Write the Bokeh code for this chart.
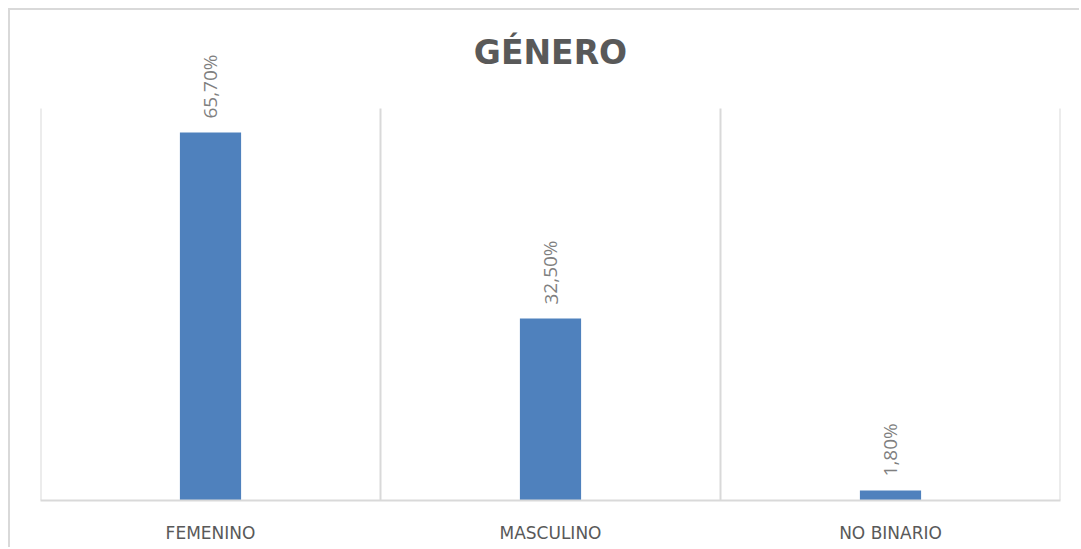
from bokeh.plotting import figure
from bokeh.models import FixedTicker, ColumnDataSource, Title, LabelSet
from bokeh.embed import file_html
from bokeh.resources import INLINE
from bokeh.core.properties import value

categories = ["FEMENINO", "MASCULINO", "NO BINARIO"]
percentages = [65.7, 32.5, 1.8]
labels = ["65,70%", "32,50%", "1,80%"]
axis_max = 70

positions = list(range(len(categories)))
src = ColumnDataSource(dict(x=positions, y=percentages, lab=labels))
bounds = [i - 0.5 for i in range(len(categories) + 1)]
grid_src = ColumnDataSource(dict(x=bounds, y0=[0] * len(bounds), y1=[axis_max] * len(bounds)))

p = figure(width=1071, height=539, output_backend="svg", toolbar_location=None,
           x_range=(-0.5, len(categories) - 0.5), y_range=(0, 80),
           min_border_left=30, min_border_right=21, min_border_top=42, min_border_bottom=49)
p.styles = {"border-left": "2px solid #d9d9d9", "border-top": "2px solid #d9d9d9",
            "margin-left": "8px", "margin-top": "8px"}
p.outline_line_color = None
p.background_fill_color = "white"
p.border_fill_color = "white"

t = Title(text="GÉNERO", align="center", text_font="DejaVu Sans", text_font_size="33px",
          text_font_style="bold", text_color="#595959", offset=0, standoff=-38)
p.add_layout(t, "above")

p.segment(x0="x", x1="x", y0="y0", y1="y1", source=grid_src, line_color="#d9d9d9", line_width=2)
p.vbar(x="x", top="y", width=0.18, bottom=0, source=src, fill_color="#4f81bd", line_color=None)
lbl = LabelSet(x="x", y="y", text="lab", source=src, angle=1.5708, text_align="left",
               text_baseline="middle", y_offset=14, text_font=value("Open Sans"),
               text_font_size="19px", text_color="#7f7f7f")
p.add_layout(lbl)

p.yaxis.visible = False
p.ygrid.visible = False
p.xgrid.visible = False

ax = p.xaxis[0]
ax.ticker = FixedTicker(ticks=positions)
ax.major_label_overrides = {i: c for i, c in enumerate(categories)}
ax.major_tick_line_color = None
ax.minor_tick_line_color = None
ax.axis_line_color = "#d9d9d9"
ax.axis_line_width = 2
ax.major_label_text_font = "DejaVu Sans"
ax.major_label_text_font_size = "17px"
ax.major_label_text_color = "#595959"
ax.major_label_standoff = 16

open("out.html", "w").write(file_html(p, INLINE))
